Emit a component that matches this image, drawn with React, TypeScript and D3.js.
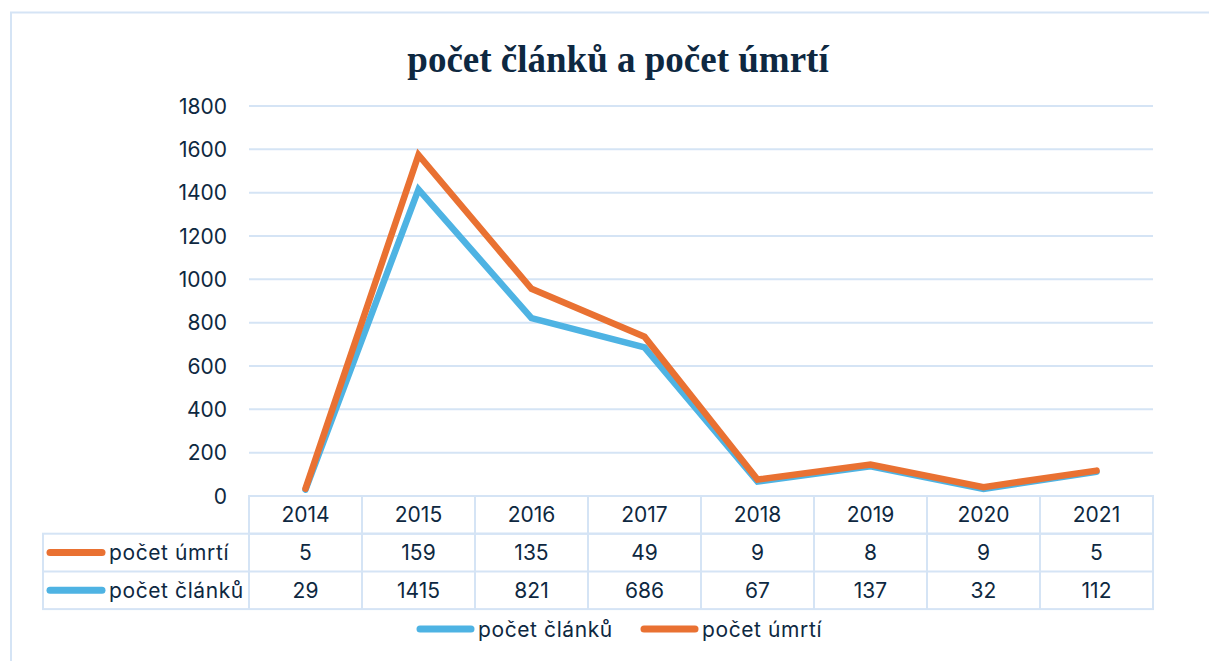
import React from 'react';
import * as d3 from 'd3';

const years = ['2014', '2015', '2016', '2017', '2018', '2019', '2020', '2021'];
const clanky = [29, 1415, 821, 686, 67, 137, 32, 112];
const umrti = [5, 159, 135, 49, 9, 8, 9, 5];
const yTicks = [0, 200, 400, 600, 800, 1000, 1200, 1400, 1600, 1800];

const seriesNames = { clanky: 'počet článků', umrti: 'počet úmrtí' };
const colors = { clanky: '#4EB3E3', umrti: '#E97132' };

const W = 1209;
const H = 661;
const textColor = '#0E2841';
const gridColor = '#D5E4F5';
const sans = 'Inter, "Noto Sans", sans-serif';

export default function App() {
  const left = 249;
  const right = 1153;
  const top = 106;
  const bottom = 496;
  const rowH = 37.7;

  const x = d3.scaleBand().domain(years).range([left, right]);
  const y = d3.scaleLinear().domain([0, 1800]).range([bottom, top]);

  // stacked line: článků at the bottom, úmrtí on top
  const rows = years.map((yr, i) => ({ year: yr, clanky: clanky[i], umrti: umrti[i] }));
  const stacked = d3.stack<any>().keys(['clanky', 'umrti'])(rows);

  const line = d3.line<any>()
    .x((d) => x(d.data.year)! + x.bandwidth() / 2)
    .y((d) => y(d[1]));

  const tableRows = [
    { key: 'umrti', values: umrti },
    { key: 'clanky', values: clanky },
  ];
  const tableLeft = 43;

  return (
    <svg width={W} height={H} style={{ position: 'absolute', left: 0, top: 0, background: '#fff' }}>
      {/* frame */}
      <path d={`M11,${H} V12.5 H${W}`} fill="none" stroke={gridColor} strokeWidth={2} />

      <text x={618} y={72} textAnchor="middle" fontFamily='"Liberation Serif", "Times New Roman", serif'
        fontWeight="bold" fontSize={37} fill={textColor}>
        počet článků a počet úmrtí
      </text>

      {/* grid + y labels */}
      {yTicks.map((t) => (
        <g key={t}>
          {t > 0 && (
            <line x1={left} x2={right} y1={y(t)} y2={y(t)} stroke={gridColor} strokeWidth={2} />
          )}
          <text x={227} y={y(t)} dy="0.36em" textAnchor="end" fontFamily={sans} fontSize={21} fill={textColor}>
            {t}
          </text>
        </g>
      ))}

      {/* data table */}
      <g fill="none" stroke={gridColor} strokeWidth={2}>
        <rect x={left} y={bottom} width={right - left} height={rowH} />
        <rect x={tableLeft} y={bottom + rowH} width={right - tableLeft} height={rowH * 2} />
        <line x1={tableLeft} x2={right} y1={bottom + rowH * 2} y2={bottom + rowH * 2} />
        {years.map((yr) => (
          <line key={yr} x1={x(yr)} x2={x(yr)} y1={bottom} y2={bottom + rowH * 3} />
        ))}
      </g>
      {years.map((yr) => (
        <text key={yr} x={x(yr)! + x.bandwidth() / 2} y={bottom + rowH / 2} dy="0.36em" textAnchor="middle"
          fontFamily={sans} fontSize={21} fill={textColor}>
          {yr}
        </text>
      ))}
      {tableRows.map((r, ri) => {
        const cy = bottom + rowH * (ri + 1) + rowH / 2;
        return (
          <g key={r.key}>
            <line x1={50} x2={102} y1={cy} y2={cy} stroke={colors[r.key]} strokeWidth={7} strokeLinecap="round" />
            <text x={109} y={cy} dy="0.36em" fontFamily={sans} fontSize={21} letterSpacing={0.6} fill={textColor}>
              {seriesNames[r.key]}
            </text>
            {r.values.map((v, i) => (
              <text key={i} x={x(years[i])! + x.bandwidth() / 2} y={cy} dy="0.36em" textAnchor="middle"
                fontFamily={sans} fontSize={21} fill={textColor}>
                {v}
              </text>
            ))}
          </g>
        );
      })}

      {/* lines */}
      {stacked.map((s) => (
        <path key={s.key} d={line(s) || ''} fill="none" stroke={colors[s.key]} strokeWidth={6.5}
          strokeLinecap="round" strokeLinejoin="miter" />
      ))}

      {/* legend */}
      {[
        { key: 'clanky', x0: 420 },
        { key: 'umrti', x0: 644 },
      ].map((l) => (
        <g key={l.key}>
          <line x1={l.x0} x2={l.x0 + 51} y1={629} y2={629} stroke={colors[l.key]} strokeWidth={7} strokeLinecap="round" />
          <text x={l.x0 + 58} y={629} dy="0.36em" fontFamily={sans} fontSize={21} letterSpacing={0.6} fill={textColor}>
            {seriesNames[l.key]}
          </text>
        </g>
      ))}
    </svg>
  );
}
